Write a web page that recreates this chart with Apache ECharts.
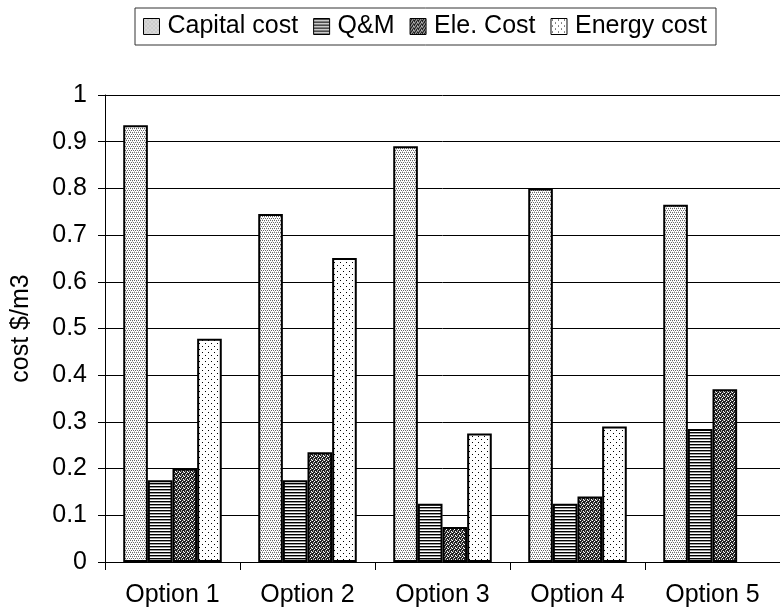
<!DOCTYPE html>
<html><head><meta charset="utf-8">
<script src="https://cdn.jsdelivr.net/npm/echarts@6/dist/echarts.min.js"></script>
<style>html,body{margin:0;padding:0;background:#fff}#c{width:780px;height:614px}</style>
</head><body><div id="c"></div>
<script>
const categories = ['Option 1','Option 2','Option 3','Option 4','Option 5'];
const capitalCost = [0.935, 0.745, 0.89, 0.80, 0.765];
const qm = [0.175, 0.175, 0.125, 0.125, 0.285];
const eleCost = [0.20, 0.235, 0.075, 0.14, 0.37];
const energyCost = [0.478, 0.651, 0.275, 0.29, null];
const seriesNames = ['Capital cost','Q&M','Ele. Cost','Energy cost'];
const yTicks = [0,0.1,0.2,0.3,0.4,0.5,0.6,0.7,0.8,0.9,1];

function pattern(w, h, fn) {
  const c = document.createElement('canvas');
  c.width = w; c.height = h;
  const ctx = c.getContext('2d');
  ctx.fillStyle = '#fff'; ctx.fillRect(0,0,w,h);
  fn(ctx);
  return {image: c, repeat: 'repeat'};
}
function px(ctx, x, y, col){ ctx.fillStyle = col; ctx.fillRect(x,y,1,1); }

const patCapital = pattern(4, 4, ctx => {
  px(ctx,0,0,'#666'); px(ctx,2,0,'#666');
  px(ctx,1,2,'#666'); px(ctx,3,2,'#666');
  px(ctx,0,1,'#ccc'); px(ctx,2,3,'#ccc');
});
const patQM = pattern(4, 3, ctx => {
  ctx.fillStyle = '#000'; ctx.fillRect(0,0,4,1);
  ctx.fillStyle = '#999'; ctx.fillRect(0,1,4,1);
});
const patEle = pattern(4, 4, ctx => {
  ctx.fillStyle = '#222'; ctx.fillRect(0,0,4,4);
  px(ctx,0,0,'#fff'); px(ctx,2,1,'#fff'); px(ctx,1,2,'#bbb'); px(ctx,3,3,'#fff');
  px(ctx,3,0,'#888'); px(ctx,1,3,'#888');
});
const patEnergy = pattern(6, 6, ctx => {
  px(ctx,1,1,'#000'); px(ctx,4,4,'#000');
});
const patterns = [patCapital, patQM, patEle, patEnergy];
const data = [capitalCost, qm, eleCost, energyCost];

const chart = echarts.init(document.getElementById('c'), null, {renderer:'canvas'});
const font = 'Liberation Sans, Arial, sans-serif';
chart.setOption({
  animation: false,
  backgroundColor: '#fff',
  legend: {
    top: 8, left: 135,
    data: seriesNames,
    icon: 'rect', itemWidth: 16, itemHeight: 16, itemGap: 15,
    padding: [6, 9, 6, 8],
    borderColor: '#333', borderWidth: 1,
    textStyle: {fontFamily: font, fontSize: 25, color: '#000', padding:[0,0,0,3]},
    itemStyle: {borderColor: '#000', borderWidth: 1}
  },
  grid: {left: 105, right: -10, top: 95, bottom: 52, containLabel: false},
  xAxis: {
    type: 'category', data: categories,
    axisLine: {lineStyle: {color: '#000', width: 1}},
    axisTick: {show: true, length: 8, lineStyle: {color: '#000'}},
    axisLabel: {fontFamily: font, fontSize: 25, color: '#000', margin: 21}
  },
  yAxis: {
    type: 'value', min: 0, max: 1, interval: 0.1,
    name: 'cost $/m3', nameLocation: 'middle', nameGap: 71, nameRotate: 90,
    nameTextStyle: {fontFamily: font, fontSize: 25, color: '#000'},
    axisLine: {show: true, lineStyle: {color: '#000', width: 1}},
    axisTick: {show: true, length: 7, lineStyle: {color: '#000'}},
    axisLabel: {fontFamily: font, fontSize: 25, color: '#000', margin: 18,
      formatter: v => yTicks.includes(+v.toFixed(1)) ? String(+v.toFixed(1)) : ''},
    splitLine: {show: true, lineStyle: {color: '#000', width: 1}}
  },
  series: seriesNames.map((n, i) => ({
    name: n, type: 'bar', data: data[i],
    barGap: '0%', barCategoryGap: '27%',
    itemStyle: {color: patterns[i], borderColor: '#000', borderWidth: 2}
  }))
});
</script></body></html>
